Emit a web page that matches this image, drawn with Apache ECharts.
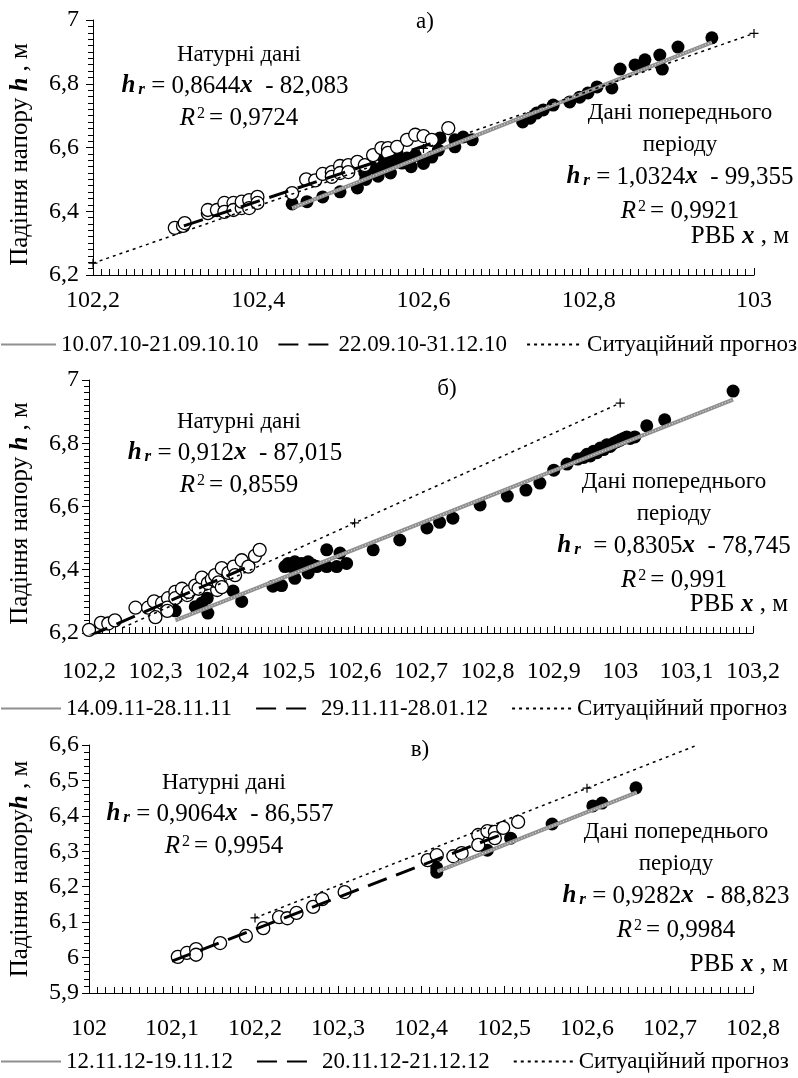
<!DOCTYPE html>
<html>
<head>
<meta charset="utf-8">
<title>Падіння напору</title>
<script src="https://cdn.jsdelivr.net/npm/echarts@6/dist/echarts.min.js"></script>
<style>
html, body { margin: 0; padding: 0; background: #fff; }
#charts { width: 798px; height: 1078px; }
</style>
</head>
<body>
<div id="charts"></div>
<script>
// ---------- дані ----------

// а) 2010
var aNames = ['10.07.10-21.09.10.10', '22.09.10-31.12.10', 'Ситуаційний прогноз'];
var aXRange = [102.2, 103, 0.2];
var aYRange = [6.2, 7, 0.2];
// дані попереднього періоду (чорні точки)
var aPrev = [[102.441,6.423],[102.459,6.43],[102.478,6.445],[102.499,6.461],[102.52,6.473],[102.529,6.52],
	[102.53,6.50],[102.539,6.536],[102.545,6.51],[102.55,6.539],[102.551,6.57],[102.559,6.545],[102.56,6.52],
	[102.568,6.555],[102.568,6.583],[102.574,6.551],[102.58,6.567],[102.585,6.54],[102.59,6.575],[102.6,6.55],
	[102.61,6.57],[102.618,6.592],[102.62,6.63],[102.638,6.624],[102.638,6.602],[102.648,6.633],[102.659,6.624],
	[102.72,6.68],[102.729,6.692],[102.737,6.708],[102.745,6.718],[102.757,6.733],[102.777,6.743],[102.789,6.758],
	[102.799,6.771],[102.81,6.79],[102.828,6.787],[102.838,6.846],[102.856,6.859],[102.866,6.859],[102.868,6.875],
	[102.889,6.846],[102.886,6.89],[102.908,6.915],[102.949,6.944]];
// натурні дані (білі кружки)
var aNat = [[102.299,6.348],[102.309,6.354],[102.311,6.363],[102.339,6.394],[102.339,6.404],[102.35,6.404],
	[102.359,6.426],[102.359,6.398],[102.37,6.426],[102.37,6.404],[102.38,6.41],[102.38,6.43],[102.389,6.435],
	[102.389,6.41],[102.399,6.445],[102.399,6.426],[102.441,6.457],[102.458,6.5],[102.469,6.497],[102.478,6.517],
	[102.489,6.523],[102.489,6.508],[102.499,6.542],[102.499,6.52],[102.509,6.545],[102.509,6.523],[102.52,6.555],
	[102.529,6.545],[102.539,6.576],[102.549,6.598],[102.557,6.598],[102.557,6.583],[102.568,6.602],[102.58,6.624],
	[102.59,6.64],[102.6,6.636],[102.61,6.624],[102.63,6.661]];
var aPrevTrend = [[102.441,6.41],[102.949,6.93]];
var aNatTrend = [[102.31,6.354],[102.61,6.613]];
var aForecast = [[102.2,6.237],[102.6,6.597],[103,6.958]];
var aForecastMarks = [[102.2,6.237],[102.6,6.597],[103,6.958]];

// б) 2011-2012
var bNames = ['14.09.11-28.11.11', '29.11.11-28.01.12', 'Ситуаційний прогноз'];
var bXRange = [102.2, 103.2, 0.1];
var bYRange = [6.2, 7, 0.2];
var bPrev = [[102.33,6.27],[102.36,6.283],[102.37,6.295],[102.378,6.31],[102.379,6.263],[102.417,6.333],[102.43,6.3],
	[102.477,6.348],[102.49,6.35],[102.495,6.41],[102.5,6.42],[102.505,6.41],[102.51,6.425],[102.515,6.415],
	[102.52,6.42],[102.525,6.41],[102.53,6.425],[102.537,6.415],[102.51,6.373],[102.53,6.39],[102.543,6.41],
	[102.558,6.463],[102.558,6.41],[102.573,6.41],[102.578,6.453],[102.588,6.42],[102.628,6.463],[102.668,6.494],
	[102.709,6.532],[102.728,6.55],[102.748,6.563],[102.789,6.605],[102.83,6.633],[102.858,6.652],[102.879,6.674],
	[102.9,6.715],[102.92,6.734],[102.936,6.75],[102.945,6.755],[102.95,6.765],[102.955,6.76],[102.96,6.775],
	[102.965,6.77],[102.97,6.785],[102.975,6.78],[102.98,6.795],[102.985,6.79],[102.99,6.8],[102.995,6.805],
	[103.0,6.81],[103.005,6.815],[103.01,6.82],[103.015,6.815],[103.022,6.82],[103.04,6.855],[103.067,6.874],
	[103.17,6.965]];
var bNat = [[102.2,6.21],[102.218,6.232],[102.229,6.23],[102.239,6.24],[102.27,6.28],[102.289,6.28],[102.298,6.3],
	[102.3,6.25],[102.31,6.295],[102.319,6.31],[102.318,6.28],[102.318,6.27],[102.33,6.33],[102.33,6.31],[102.34,6.34],
	[102.348,6.32],[102.35,6.33],[102.36,6.35],[102.365,6.34],[102.37,6.375],[102.379,6.358],[102.385,6.37],
	[102.39,6.383],[102.393,6.336],[102.395,6.36],[102.4,6.405],[102.4,6.345],[102.41,6.39],[102.418,6.41],
	[102.42,6.383],[102.43,6.43],[102.44,6.41],[102.45,6.444],[102.457,6.463]];
var bPrevTrend = [[102.33,6.24],[103.17,6.938]];
var bNatTrend = [[102.2,6.19],[102.45,6.419]];
var bForecast = [[102.25,6.216],[102.6,6.548],[103,6.927]];
var bForecastMarks = [[102.6,6.548],[103,6.927]];

// в) 2012
var cNames = ['12.11.12-19.11.12', '20.11.12-21.12.12', 'Ситуаційний прогноз'];
var cXRange = [102, 102.8, 0.1];
var cYRange = [5.9, 6.6, 0.1];
var cPrev = [[102.419,6.253],[102.419,6.241],[102.48,6.303],[102.508,6.337],[102.558,6.377],[102.607,6.428],
	[102.618,6.436],[102.659,6.479]];
var cNat = [[102.107,6.002],[102.118,6.013],[102.129,6.024],[102.129,6.008],[102.158,6.041],[102.189,6.061],
	[102.21,6.083],[102.229,6.114],[102.239,6.111],[102.25,6.126],[102.27,6.143],[102.281,6.165],[102.308,6.185],
	[102.408,6.275],[102.419,6.289],[102.439,6.286],[102.449,6.295],[102.469,6.346],[102.469,6.318],[102.48,6.357],
	[102.489,6.355],[102.489,6.337],[102.499,6.366],[102.517,6.383]];
var cPrevTrend = [[102.42,6.243],[102.66,6.466]];
var cNatTrend = [[102.1,5.99],[102.5,6.35]];
var cForecast = [[102.2,6.112],[102.6,6.478],[102.73,6.597]];
var cForecastMarks = [[102.2,6.112],[102.6,6.478]];

// ---------- оформлення ----------

var FONT = 'Liberation Serif, serif';

var rich = {
	b: { fontFamily: FONT, fontSize: 25, fontWeight: 'bold', fontStyle: 'italic' },
	sub: { fontFamily: FONT, fontSize: 17, fontWeight: 'bold', fontStyle: 'italic', verticalAlign: 'bottom',
		lineHeight: 14, padding: [8, 0, 0, 3] },
	i: { fontFamily: FONT, fontSize: 25, fontStyle: 'italic' },
	sup: { fontFamily: FONT, fontSize: 16, verticalAlign: 'top', lineHeight: 12, padding: [0, 4, 6, 2] }
};

// розташування панелей
var panels = [
	{
		names: aNames, xr: aXRange, yr: aYRange, prev: aPrev, nat: aNat,
		prevTrend: aPrevTrend, natTrend: aNatTrend, forecast: aForecast, marks: aForecastMarks,
		grid: { left: 93, top: 20, width: 661, height: 255 },
		xMinor: 20, yMinor: 10, xMargin: 14, yMargin: 14, yName: 'Падіння напору {b|h} , м', yNameShift: 14,
		xNamePad: 26, legendTop: 333, legendIcon: 55, legendGap: 19,
		letter: 'а)', letterPos: [425, 22],
		natText: [239, 55], natEq: '{b|h}{sub|r} = 0,8644{b|x}  - 82,083', natR2: '0,9724',
		prevText: [680, 113], prevEq: '{b|h}{sub|r} = 1,0324{b|x}  - 99,355', prevR2: '0,9921'
	},
	{
		names: bNames, xr: bXRange, yr: bYRange, prev: bPrev, nat: bNat,
		prevTrend: bPrevTrend, natTrend: bNatTrend, forecast: bForecast, marks: bForecastMarks,
		grid: { left: 89, top: 380, width: 664, height: 253 },
		xMinor: 10, yMinor: 10, xMargin: 27, yMargin: 10, yName: 'Падіння напору {b|h} , м', yNameShift: 14,
		xNamePad: 16, legendTop: 697, legendIcon: 60, legendGap: 23,
		letter: 'б)', letterPos: [447, 389],
		natText: [239, 422], natEq: '{b|h}{sub|r} = 0,912{b|x}  - 87,015', natR2: '0,8559',
		prevText: [674, 482], prevEq: '{b|h}{sub|r}  = 0,8305{b|x}  - 78,745', prevR2: '0,991'
	},
	{
		names: cNames, xr: cXRange, yr: cYRange, prev: cPrev, nat: cNat,
		prevTrend: cPrevTrend, natTrend: cNatTrend, forecast: cForecast, marks: cForecastMarks,
		grid: { left: 89, top: 745, width: 664, height: 248 },
		xMinor: 10, yMinor: 5, xMargin: 24, yMargin: 10, yName: 'Падіння напору{b|h} , м', yNameShift: 0,
		xNamePad: 16, legendTop: 1050, legendIcon: 60, legendGap: 23,
		letter: 'в)', letterPos: [420, 750],
		natText: [224, 783], natEq: '{b|h}{sub|r} = 0,9064{b|x}  - 86,557', natR2: '0,9954',
		prevText: [676, 832], prevEq: '{b|h}{sub|r} = 0,9282{b|x}  - 88,823', prevR2: '0,9984'
	}
];

// 102.2 -> "102,2"
function comma(v) {
	return String(+v.toFixed(2)).replace('.', ',');
}

function label(text, x, y, size) {
	return {
		type: 'text', x: x, y: y, silent: true,
		style: { text: text, fontFamily: FONT, fontSize: size || 23, fill: '#000', align: 'center', verticalAlign: 'middle', rich: rich }
	};
}

var option = {
	animation: false,
	backgroundColor: '#fff',
	textStyle: { fontFamily: FONT },
	grid: [], xAxis: [], yAxis: [], legend: [], series: [], graphic: []
};

panels.forEach(function (p, i) {
	option.grid.push({
		left: p.grid.left, top: p.grid.top, width: p.grid.width, height: p.grid.height,
		containLabel: false, outerBoundsMode: 'none'
	});

	option.xAxis.push({
		gridIndex: i, type: 'value', min: p.xr[0], max: p.xr[1], interval: p.xr[2],
		axisLine: { show: true, onZero: false, lineStyle: { color: '#000', width: 1 } },
		axisTick: { show: true, inside: true, length: 7, lineStyle: { color: '#000' } },
		minorTick: { show: true, splitNumber: p.xMinor, length: 6, lineStyle: { color: '#000' } },
		splitLine: { show: false },
		axisLabel: { formatter: comma, fontFamily: FONT, fontSize: 24, color: '#000', margin: p.xMargin,
			showMinLabel: true, showMaxLabel: true, hideOverlap: false },
		name: 'РВБ {b|x} , м', nameLocation: 'end', nameGap: 35, nameMoveOverlap: false,
		nameTextStyle: { fontFamily: FONT, fontSize: 25, color: '#000', align: 'right', verticalAlign: 'bottom',
			padding: [0, 0, p.xNamePad, 0], rich: rich }
	});

	option.yAxis.push({
		gridIndex: i, type: 'value', min: p.yr[0], max: p.yr[1], interval: p.yr[2],
		axisLine: { show: true, onZero: false, lineStyle: { color: '#000', width: 1 } },
		axisTick: { show: true, inside: false, length: 7, lineStyle: { color: '#000' } },
		minorTick: { show: true, splitNumber: p.yMinor, length: 5, lineStyle: { color: '#000' } },
		splitLine: { show: false },
		axisLabel: { formatter: comma, fontFamily: FONT, fontSize: 24, color: '#000', margin: p.yMargin,
			showMinLabel: true, showMaxLabel: true },
		name: p.yName, nameLocation: 'middle', nameGap: i === 0 ? 60 : 56, nameMoveOverlap: false,
		nameTextStyle: { fontFamily: FONT, fontSize: 25, color: '#000', rich: rich, padding: [0, p.yNameShift, 0, 0] }
	});

	option.legend.push({
		left: 0, top: p.legendTop, width: 798, padding: 0, itemWidth: p.legendIcon, itemHeight: 10, itemGap: p.legendGap,
		selectedMode: false, data: p.names,
		itemStyle: { opacity: 0 },
		textStyle: { fontFamily: FONT, fontSize: 23, color: '#000' }
	});

	// точки
	option.series.push({
		type: 'scatter', xAxisIndex: i, yAxisIndex: i, data: p.prev, symbol: 'circle', symbolSize: 13,
		itemStyle: { color: '#000', opacity: 1 }, z: 2, silent: true
	});
	option.series.push({
		type: 'scatter', xAxisIndex: i, yAxisIndex: i, data: p.nat, symbol: 'circle', symbolSize: 13,
		itemStyle: { color: '#fff', borderColor: '#000', borderWidth: 1.3, opacity: 1 }, z: 2, silent: true
	});

	// лінії трендів і прогноз
	option.series.push({
		type: 'line', name: p.names[0], xAxisIndex: i, yAxisIndex: i, data: p.prevTrend, symbol: 'none',
		itemStyle: { color: '#8f8f8f' },
		lineStyle: { color: '#8f8f8f', width: 4, type: 'solid' }, z: 3, silent: true
	});
	// світла «текстура» сірої лінії
	option.series.push({
		type: 'line', xAxisIndex: i, yAxisIndex: i, data: p.prevTrend, symbol: 'none',
		lineStyle: { color: '#dcdcdc', width: 1.2, type: [1, 2] }, z: 3, silent: true
	});
	option.series.push({
		type: 'line', name: p.names[1], xAxisIndex: i, yAxisIndex: i, data: p.natTrend, symbol: 'none',
		itemStyle: { color: '#000' },
		lineStyle: { color: '#000', width: 3, type: [20, 10] }, z: 3, silent: true
	});
	option.series.push({
		type: 'line', name: p.names[2], xAxisIndex: i, yAxisIndex: i, data: p.forecast, symbol: 'none',
		itemStyle: { color: '#000' },
		lineStyle: { color: '#000', width: 1.5, type: [3, 4] }, z: 3, silent: true
	});
	option.series.push({
		type: 'scatter', xAxisIndex: i, yAxisIndex: i, data: p.marks, symbol: 'path://M0,5H10M5,0V10', symbolSize: 9,
		itemStyle: { color: '#000', borderColor: '#000', borderWidth: 1.2, opacity: 1 }, z: 4, silent: true, clip: false
	});

	// підписи
	option.graphic.push(label(p.letter, p.letterPos[0], p.letterPos[1]));
	option.graphic.push(label('Натурні дані', p.natText[0], p.natText[1]));
	option.graphic.push(label(p.natEq, p.natText[0] - 4, p.natText[1] + 31, 25));
	option.graphic.push(label('{i|R}{sup|2}= ' + p.natR2, p.natText[0], p.natText[1] + 63, 25));
	option.graphic.push(label('Дані попереднього', p.prevText[0], p.prevText[1]));
	option.graphic.push(label('періоду', p.prevText[0], p.prevText[1] + 32));
	option.graphic.push(label(p.prevEq, p.prevText[0], p.prevText[1] + 64, 25));
	option.graphic.push(label('{i|R}{sup|2}= ' + p.prevR2, p.prevText[0], p.prevText[1] + 98, 25));
});

var myChart = echarts.init(document.getElementById('charts'), null, { renderer: 'canvas' });
myChart.setOption(option);
</script>
</body>
</html>
